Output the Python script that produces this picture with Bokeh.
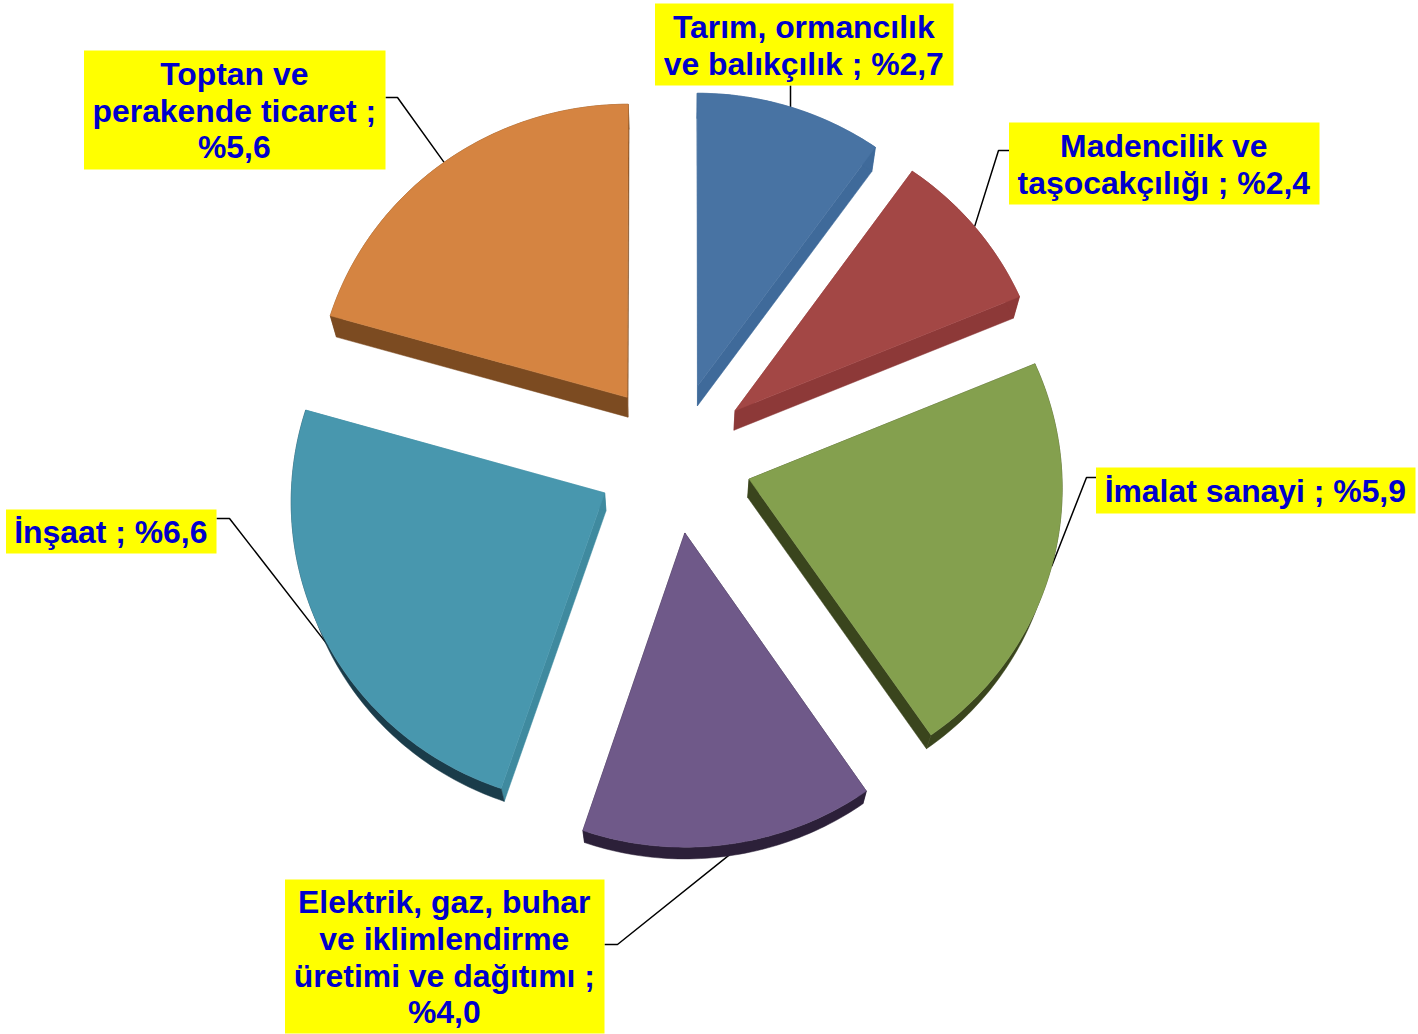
import math
from bokeh.plotting import figure
from bokeh.models import Range1d
from bokeh.core.properties import value
from bokeh.embed import file_html
from bokeh.resources import INLINE

# data
categories = ["Tarım, ormancılık ve balıkçılık", "Madencilik ve taşocakçılığı", "İmalat sanayi",
              "Elektrik, gaz, buhar ve iklimlendirme üretimi ve dağıtımı", "İnşaat", "Toptan ve perakende ticaret"]
values = [2.7, 2.4, 5.9, 4.0, 6.6, 5.6]
label_lines = [
    ["Tarım, ormancılık", "ve balıkçılık ; %2,7"],
    ["Madencilik ve", "taşocakçılığı ; %2,4"],
    ["İmalat sanayi ; %5,9"],
    ["Elektrik, gaz, buhar", "ve iklimlendirme", "üretimi ve dağıtımı ;", "%4,0"],
    ["İnşaat ; %6,6"],
    ["Toptan ve", "perakende ticaret ;", "%5,6"],
]

# styles
top_colors = ["#4873a3", "#a34745", "#84a04e", "#6f5989", "#4897ae", "#d58441"]
cut_colors = ["#3f6a9a", "#8d3938", "#3a451d", "#2c2039", "#3f8a9f", "#7c4b21"]
rim_colors = ["#3f6a9a", "#8d3938", "#3a451d", "#2c2039", "#1a3c4a", "#7c4b21"]
label_boxes = [(654.5, 3, 953, 85), (1008.5, 122, 1319, 204), (1095.5, 467, 1415, 513),
               (284.5, 879, 604, 1033), (5.5, 509, 216, 553), (83.5, 50, 385, 169)]
leader_elbows = [[(790, 85)],
                 [(1009, 150), (998, 150)],
                 [(1096, 477), (1086, 477)],
                 [(604, 944), (617, 944)],
                 [(216, 518), (229, 518)],
                 [(385, 97), (397, 97)]]
leader_angle_shift = [0, 0, 0, -3, -2, 0]
FONT_PX = 31.9
LINE_H = 36.6
TEXT_DX, TEXT_DY = -0.7, 0.7

# geometry of the tilted exploded pie
CX, CY, AX, AY, K, EXPLODE = 673.5, 457.0, 312.5, 303.0, 0.024, 0.25
VX, VY, DEPTH = 675.0, 1500.0, 0.982


def project(u, v):
    w = 1 + K * v
    return CX + AX * u / w, CY - AY * v / w


def lower(pt):
    return VX + (pt[0] - VX) * DEPTH, VY + (pt[1] - VY) * DEPTH


def polar(theta_deg, r, ox, oy):
    t = math.radians(theta_deg)
    return project(ox + r * math.sin(t), oy + r * math.cos(t))


p = figure(width=1418, height=1034, output_backend="svg", toolbar_location=None,
           x_range=Range1d(0, 1418), y_range=Range1d(1034, 0), min_border=0)
p.axis.visible = False
p.grid.visible = False
p.outline_line_color = None
p.background_fill_color = "white"
p.border_fill_color = "white"

total = sum(values)
start = 0.0
rim_points = []
for i, val in enumerate(values):
    sweep = val / total * 360
    mid = start + sweep / 2
    ox = EXPLODE * math.sin(math.radians(mid))
    oy = EXPLODE * math.cos(math.radians(mid))
    apex = project(ox, oy)
    steps = max(8, int(sweep))
    rim = [polar(start + sweep * j / steps, 1.0, ox, oy) for j in range(steps + 1)]
    rim_low = [lower(q) for q in rim]
    apex_low = lower(apex)
    rim_points.append(polar(mid + leader_angle_shift[i], 1.0, ox, oy))
    # side faces
    for a, b in [(rim[0], rim_low[0]), (rim[-1], rim_low[-1])]:
        xs = [apex[0], a[0], b[0], apex_low[0]]
        ys = [apex[1], a[1], b[1], apex_low[1]]
        p.patch(xs, ys, fill_color=cut_colors[i], line_color=cut_colors[i], line_width=0.5)
    strip = rim + rim_low[::-1]
    p.patch([q[0] for q in strip], [q[1] for q in strip], fill_color=rim_colors[i],
            line_color=rim_colors[i], line_width=0.5)
    # top face
    face = [apex] + rim
    p.patch([q[0] for q in face], [q[1] for q in face], fill_color=top_colors[i],
            line_color=top_colors[i], line_width=0.5)
    start += sweep

for elbow, end in zip(leader_elbows, rim_points):
    pts = elbow + [end]
    p.line([q[0] for q in pts], [q[1] for q in pts], line_color="black", line_width=1.5,
           level="underlay")

for box, lines in zip(label_boxes, label_lines):
    x0, y0, x1, y1 = box
    p.quad(left=[x0], right=[x1], top=[y0], bottom=[y1], fill_color="#ffff00", line_color=None)
    n = len(lines)
    ym = (y0 + y1) / 2 + TEXT_DY
    p.text(x=[(x0 + x1) / 2 + TEXT_DX + 0.25] * n,
           y=[ym + (j - (n - 1) / 2) * LINE_H for j in range(n)],
           text=lines, text_align="center", text_baseline="middle",
           text_font=value("Liberation Sans"), text_font_style="bold",
           text_font_size=value(f"{FONT_PX}px"), text_color="#0000cc")

open("out.html", "w").write(file_html(p, INLINE))
